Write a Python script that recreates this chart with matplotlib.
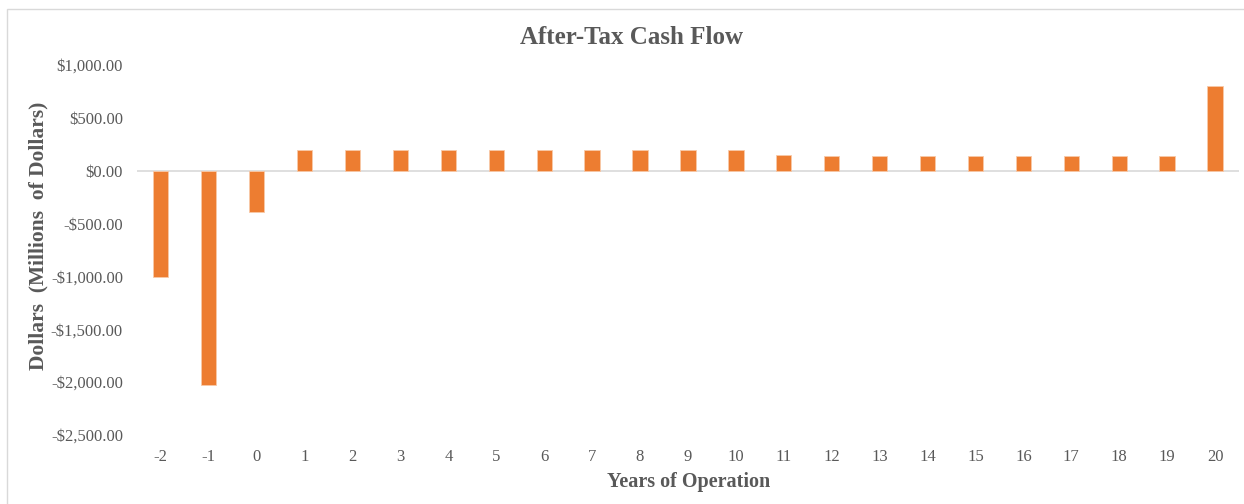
import matplotlib
matplotlib.use("Agg")
import matplotlib.pyplot as plt
from matplotlib.ticker import FuncFormatter
from matplotlib.patches import Rectangle

years = [-2, -1, 0, 1, 2, 3, 4, 5, 6, 7, 8, 9, 10, 11, 12, 13, 14, 15, 16, 17, 18, 19, 20]
cash_flow = [-1010, -2030, -390, 200, 200, 200, 200, 200, 200, 200, 200, 200, 200,
             148, 137, 137, 137, 137, 137, 137, 137, 137, 800]

plt.rcParams['font.family'] = ['Liberation Serif', 'DejaVu Serif']
text_color = "#595959"

W, H = 1244, 504
fig = plt.figure(figsize=(W / 100, H / 100), dpi=100)
fig.patches.append(Rectangle((0.006, -0.01), 1.0, 0.992, transform=fig.transFigure,
                             fill=False, edgecolor="#D9D9D9", linewidth=1.0))

ax = fig.add_axes([0.110, 0.137, 0.886, 0.734])
x = list(range(len(years)))
ax.bar(x, cash_flow, width=0.32, color="#ED7D31", edgecolor="#F8C9A8", linewidth=0.6, zorder=2)
ax.axhline(0, color="#D9D9D9", linewidth=1.2, zorder=1)

ax.set_xlim(-0.5, len(years) - 0.5)
ax.set_ylim(-2500, 1000)
ax.set_yticks(range(-2500, 1001, 500))
ax.yaxis.set_major_formatter(FuncFormatter(
    lambda v, p: f"-${abs(v):,.2f}" if v < 0 else f"${v:,.2f}"))
ax.set_xticks(x)
ax.set_xticklabels([str(y) for y in years])
ax.tick_params(axis='both', length=0, labelsize=12, colors=text_color)
ax.tick_params(axis='x', pad=10)
ax.tick_params(axis='y', pad=10)
for s in ax.spines.values():
    s.set_visible(False)

fig.text(631 / W, 1 - 37 / H, "After-Tax Cash Flow", fontsize=18, fontweight='bold',
         color=text_color, ha='center', va='center')
fig.text(689 / W, 1 - 482 / H, "Years of Operation", fontsize=14.5, fontweight='bold',
         color=text_color, ha='center', va='center')
fig.text(38 / W, 1 - 236 / H, "Dollars  (Millions  of Dollars)", fontsize=15.5,
         fontweight='bold', color=text_color, ha='center', va='center', rotation=90)

fig.savefig("out.png", dpi=100)
